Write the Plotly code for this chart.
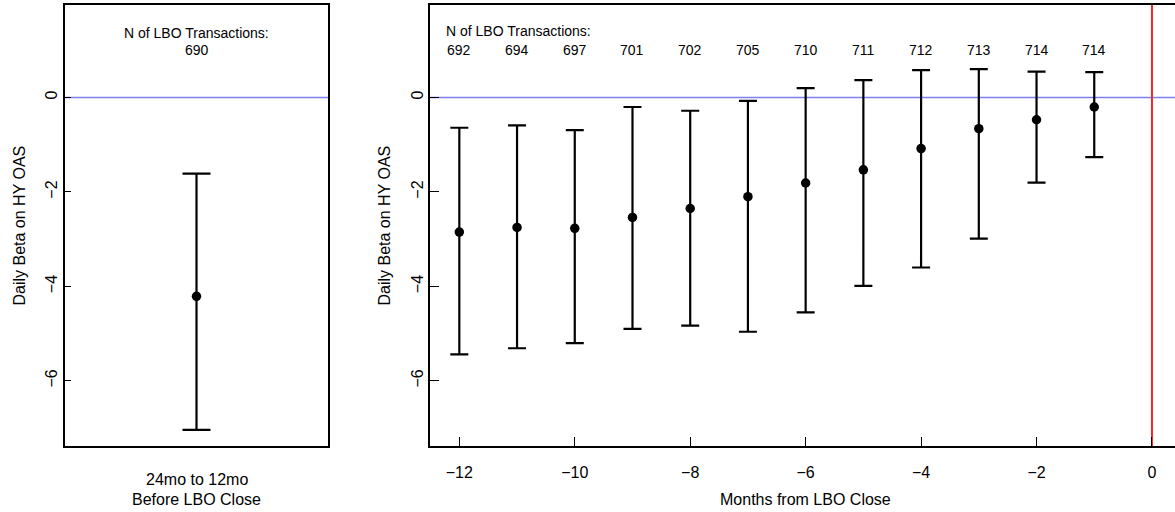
import numpy as np
import plotly.graph_objects as go

# ---- data -------------------------------------------------------------
# pre-period window (24 to 12 months before close)
pre_label = ["24mo to 12mo", "Before LBO Close"]
pre_beta = [-4.21]
pre_upper = [-1.61]
pre_lower = [-7.04]
pre_n = [690]

# monthly windows leading up to the close
months = [-12, -11, -10, -9, -8, -7, -6, -5, -4, -3, -2, -1]
beta = [-2.85, -2.75, -2.77, -2.54, -2.35, -2.10, -1.81, -1.53, -1.08, -0.66, -0.47, -0.20]
upper = [-0.64, -0.59, -0.69, -0.20, -0.28, -0.07, 0.20, 0.37, 0.58, 0.60, 0.55, 0.54]
lower = [-5.44, -5.31, -5.20, -4.90, -4.83, -4.96, -4.55, -3.99, -3.60, -2.99, -1.80, -1.26]
n_deals = [692, 694, 697, 701, 702, 705, 710, 711, 712, 713, 714, 714]

y_ticks = [-6, -4, -2, 0]
x_ticks = [-12, -10, -8, -6, -4, -2, 0]

# ---- layout geometry --------------------------------------------------
W, H = 1175, 512
FONT = "Liberation Sans, Arial, Helvetica, sans-serif"
y_dom = [1 - 446 / H, 1 - 5 / H]
left_dom = [65 / W, 328 / W]
right_dom = [430.3 / W, 1.0]
y_range = [-7.38, 1.96]

fig = go.Figure()

def add_errbar(x, y, up, lo, xa, ya, cap):
    y = np.asarray(y, float)
    fig.add_trace(go.Scatter(
        x=x, y=y, mode="markers", xaxis=xa, yaxis=ya,
        marker=dict(color="black", size=9.5),
        error_y=dict(type="data", symmetric=False,
                     array=np.asarray(up) - y, arrayminus=y - np.asarray(lo),
                     color="black", thickness=2.2, width=cap),
        showlegend=False, hoverinfo="skip",
    ))

add_errbar([0], pre_beta, pre_upper, pre_lower, "x", "y", 14)
add_errbar(months, beta, upper, lower, "x2", "y2", 9)

axis_common = dict(showgrid=False, zeroline=False, showline=True,
                   linecolor="black", linewidth=1.5,
                   tickfont=dict(family=FONT, size=16, color="black"),
                   tickcolor="black", tickwidth=1.2)

fig.update_layout(
    width=W, height=H, margin=dict(l=0, r=0, t=0, b=0),
    plot_bgcolor="white", paper_bgcolor="white",
    font=dict(family=FONT, color="black"),
    xaxis=dict(domain=left_dom, range=[-1, 1], showticklabels=False,
               ticks="", mirror=True, anchor="y", **axis_common),
    yaxis=dict(domain=y_dom, range=y_range, tickvals=y_ticks,
               ticks="inside", ticklen=6, tickangle=-90, mirror=True,
               anchor="x", ticklabelstandoff=0, **axis_common),
    xaxis2=dict(domain=right_dom, range=[-12.503, 0.399], tickvals=x_ticks,
                ticks="inside", ticklen=9, mirror=True, anchor="y2",
                ticklabelstandoff=11, **axis_common),
    yaxis2=dict(domain=y_dom, range=y_range, tickvals=y_ticks,
                ticks="inside", ticklen=9, tickangle=-90, anchor="x2",
                ticklabelstandoff=-1, **axis_common),
)

# reference lines: zero beta in both panels, deal close in the right panel
for xr in ("x domain", "x2 domain"):
    yr = "y" if xr.startswith("x ") else "y2"
    fig.add_shape(type="line", xref=xr, yref=yr, x0=0, x1=1, y0=0, y1=0,
                  line=dict(color="#7f7ff2", width=1.4), layer="below")
fig.add_shape(type="line", xref="x2", yref="y2 domain", x0=0, x1=0, y0=0, y1=1,
              line=dict(color="#f02828", width=2), layer="below")

def label(text, x, y, size, xanchor="center", angle=0):
    fig.add_annotation(text=text, x=x / W, y=1 - y / H, xref="paper", yref="paper",
                       showarrow=False, xanchor=xanchor, yanchor="middle",
                       textangle=angle, font=dict(family=FONT, size=size, color="black"))

# transaction counts
label("N of LBO Transactions:", 196.5, 33, 14)
fig.add_annotation(text=str(pre_n[0]), x=0, y=1 - 50 / H, xref="x", yref="paper",
                   showarrow=False, yanchor="middle",
                   font=dict(family=FONT, size=14, color="black"))
label("N of LBO Transactions:", 444, 31, 14, xanchor="left")
for m, n in zip(months, n_deals):
    fig.add_annotation(text=str(n), x=m, y=1 - 50 / H, xref="x2", yref="paper",
                       showarrow=False, yanchor="middle",
                       font=dict(family=FONT, size=14, color="black"))

# axis titles
label("Daily Beta on HY OAS", 19, 225.5, 16, angle=-90)
label("Daily Beta on HY OAS", 384, 225.5, 16, angle=-90)
label(pre_label[0], 196.5, 479, 16)
label(pre_label[1], 196.5, 499, 16)
label("Months from LBO Close", 805.5, 499, 16)

fig.write_html("out.html")
